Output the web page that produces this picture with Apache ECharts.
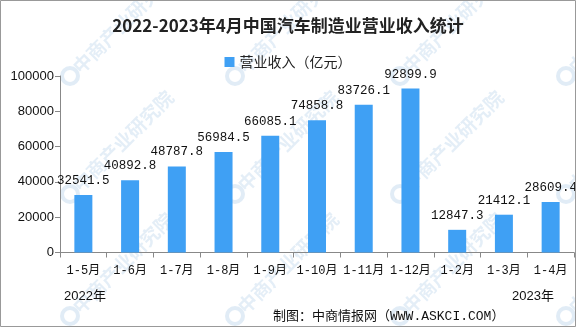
<!DOCTYPE html>
<html>
<head>
<meta charset="utf-8">
<script src="https://cdn.jsdelivr.net/npm/echarts@6/dist/echarts.min.js"></script>
<style>
  html, body { margin: 0; padding: 0; background: #fff; }
  #chart { width: 576px; height: 327px; }
</style>
</head>
<body>
<div id="chart"></div>
<script>
// Cumulative revenue of China's auto manufacturing industry (100 million yuan)
const categories = ['1-5月', '1-6月', '1-7月', '1-8月', '1-9月', '1-10月', '1-11月', '1-12月', '1-2月', '1-3月', '1-4月'];
const revenue = [32541.5, 40892.8, 48787.8, 56984.5, 66085.1, 74858.8, 83726.1, 92899.9, 12847.3, 21412.1, 28609.4];
const yearLabels = ['2022年', '2023年'];
const titleText = '2022-2023年4月中国汽车制造业营业收入统计';
const seriesName = '营业收入（亿元）';
const sourceText = '制图：中商情报网（WWW.ASKCI.COM）';
const watermark = '中商产业研究院';

const monoFont = "'Liberation Mono', 'Noto Sans CJK SC', monospace";
const sansFont = "'Liberation Sans', 'Noto Sans CJK SC', sans-serif";

// faint diagonal watermark grid
const wmCols = [70, 235, 400, 566];
const wmRows = [76, 194, 316];
const wmElements = [];
wmRows.forEach(y => wmCols.forEach(x => {
  wmElements.push({
    type: 'circle', z: -10, silent: true,
    shape: { cx: x, cy: y, r: 8 },
    style: { fill: 'none', stroke: 'rgba(120,170,215,0.22)', lineWidth: 4 }
  });
  wmElements.push({
    type: 'text', z: -10, silent: true,
    x: x + 6, y: y - 6, rotation: Math.PI / 4,
    style: {
      text: watermark, fill: 'rgba(120,170,215,0.2)',
      font: "bold 19px 'Noto Sans CJK SC'", textAlign: 'left', textVerticalAlign: 'middle'
    }
  });
}));

const chart = echarts.init(document.getElementById('chart'), null, { renderer: 'canvas' });
chart.setOption({
  backgroundColor: '#fff',
  animation: false,
  title: {
    text: titleText, left: 'center', top: 12,
    textStyle: { fontFamily: "'Noto Sans CJK SC'", fontWeight: 'bold', fontSize: 17, color: '#222' }
  },
  legend: {
    top: 50, left: 'center', icon: 'rect', itemWidth: 10, itemHeight: 10, itemGap: 4,
    textStyle: { fontFamily: "'Noto Sans CJK SC'", fontSize: 14, color: '#222' }
  },
  grid: { left: 60, right: 2, top: 76, bottom: 74.5, containLabel: false },
  xAxis: {
    type: 'category', data: categories,
    axisLine: { lineStyle: { color: '#888' } },
    axisTick: { show: true, length: 5, lineStyle: { color: '#888' } },
    axisLabel: { fontFamily: monoFont, fontSize: 12, color: '#111', margin: 12, interval: 0 }
  },
  yAxis: {
    type: 'value', min: 0, max: 100000, interval: 20000,
    axisLine: { show: true, lineStyle: { color: '#888' } },
    axisTick: { show: true, length: 5, lineStyle: { color: '#888' } },
    splitLine: { show: false },
    axisLabel: { fontFamily: sansFont, fontSize: 13, color: '#111', margin: 6, formatter: v => String(v) }
  },
  series: [{
    name: seriesName, type: 'bar', data: revenue, barWidth: 18,
    itemStyle: { color: '#3fa0f4' },
    label: {
      show: true, position: 'top', distance: 8,
      fontFamily: monoFont, fontSize: 12.5, color: '#111'
    }
  }],
  graphic: [
    ...wmElements,
    { type: 'rect', z: 100, silent: true, shape: { x: 0.5, y: 0.5, width: 575, height: 326 },
      style: { fill: 'none', stroke: '#999', lineWidth: 1 } },
    { type: 'text', left: 64, top: 290, style: { text: yearLabels[0], font: "13px 'Liberation Sans', 'Noto Sans CJK SC'", fill: '#111' } },
    { type: 'text', left: 512, top: 290, style: { text: yearLabels[1], font: "13px 'Liberation Sans', 'Noto Sans CJK SC'", fill: '#111' } },
    { type: 'text', left: 273, top: 310, style: { text: sourceText, font: "13px 'Liberation Mono', 'Noto Sans CJK SC'", fill: '#111' } }
  ]
});
</script>
</body>
</html>
